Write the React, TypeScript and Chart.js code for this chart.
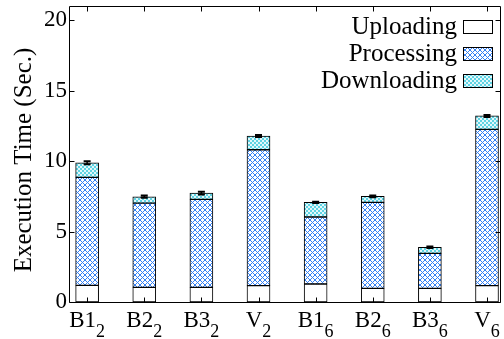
import React, { useEffect, useRef } from 'react';
import { Chart, registerables } from 'chart.js';

Chart.register(...registerables);

// ---- data ----
const categories = ['B1_2', 'B2_2', 'B3_2', 'V_2', 'B1_6', 'B2_6', 'B3_6', 'V_6'];
const seriesNames = ['Uploading', 'Processing', 'Downloading'];
const uploading = [1.18, 1.04, 1.04, 1.16, 1.28, 0.97, 0.97, 1.16];
const processing = [7.66, 5.98, 6.24, 9.64, 4.75, 6.1, 2.48, 11.09];
const downloading = [1.04, 0.45, 0.45, 0.97, 1.04, 0.43, 0.43, 0.95];
const totalErrors = [0.1, 0.08, 0.1, 0.07, 0.05, 0.06, 0.05, 0.07];
const yTicks = [0, 5, 10, 15, 20];
const yTitle = 'Execution Time (Sec.)';

const FONT = "'Liberation Serif', 'DejaVu Serif', serif";

function makeCrossPattern(ctx: CanvasRenderingContext2D): CanvasPattern | string {
  const c = document.createElement('canvas');
  const P = 5;
  c.width = P;
  c.height = P;
  const g = c.getContext('2d');
  if (!g) return '#7aa7f5';
  g.fillStyle = '#ffffff';
  g.fillRect(0, 0, P, P);
  g.strokeStyle = '#3380f5';
  g.lineWidth = 1.0;
  g.beginPath();
  g.moveTo(-1, -1);
  g.lineTo(P + 1, P + 1);
  g.moveTo(P + 1, -1);
  g.lineTo(-1, P + 1);
  g.stroke();
  return ctx.createPattern(c, 'repeat') || '#7aa7f5';
}

function makeCheckerPattern(ctx: CanvasRenderingContext2D): CanvasPattern | string {
  const c = document.createElement('canvas');
  c.width = 4;
  c.height = 4;
  const g = c.getContext('2d');
  if (!g) return '#7fdce8';
  g.fillStyle = '#e2f8fb';
  g.fillRect(0, 0, 4, 4);
  g.fillStyle = '#5fd3e3';
  g.fillRect(0, 0, 2, 2);
  g.fillRect(2, 2, 2, 2);
  return ctx.createPattern(c, 'repeat') || '#7fdce8';
}

export default function App() {
  const canvasRef = useRef<HTMLCanvasElement | null>(null);

  useEffect(() => {
    const canvas = canvasRef.current;
    if (!canvas) return;
    const ctx = canvas.getContext('2d');
    if (!ctx) return;

    const fills: (string | CanvasPattern)[] = ['#ffffff', makeCrossPattern(ctx), makeCheckerPattern(ctx)];
    const seriesValues = [uploading, processing, downloading];

    const framePlugin = {
      id: 'frameAndExtras',
      afterDatasetsDraw(chart: any) {
        const c = chart.ctx as CanvasRenderingContext2D;
        const { left, right, top, bottom } = chart.chartArea;
        const xs = chart.scales.x;
        const ys = chart.scales.y;
        c.save();
        // error bars
        c.strokeStyle = '#000';
        categories.forEach((_, i) => {
          const total = uploading[i] + processing[i] + downloading[i];
          const x = xs.getPixelForValue(i + 1);
          const y1 = ys.getPixelForValue(total + totalErrors[i]);
          const y2 = ys.getPixelForValue(total - totalErrors[i]);
          c.lineWidth = 1.5;
          c.beginPath();
          c.moveTo(x, y1);
          c.lineTo(x, y2);
          c.stroke();
          c.lineWidth = 2;
          c.beginPath();
          c.moveTo(x - 3.5, y1);
          c.lineTo(x + 3.5, y1);
          c.moveTo(x - 3.5, y2);
          c.lineTo(x + 3.5, y2);
          c.stroke();
        });
        // frame
        c.lineWidth = 1;
        const L = Math.round(left) - 0.5;
        const R = Math.round(right) - 0.5;
        const T = Math.round(top) + 0.5;
        const B = Math.round(bottom) + 0.5;
        c.beginPath();
        c.rect(L, T, R - L, B - T);
        c.stroke();
        // inward ticks
        c.beginPath();
        yTicks.forEach((v) => {
          const y = Math.round(ys.getPixelForValue(v)) + 0.5;
          c.moveTo(L, y);
          c.lineTo(L + 5, y);
          c.moveTo(R, y);
          c.lineTo(R - 5, y);
        });
        categories.forEach((_, i) => {
          const x = Math.round(xs.getPixelForValue(i + 1)) + 0.5;
          c.moveTo(x, T);
          c.lineTo(x, T + 5);
          c.moveTo(x, B);
          c.lineTo(x, B - 5);
        });
        c.stroke();
        c.restore();
      },
      afterDraw(chart: any) {
        const c = chart.ctx as CanvasRenderingContext2D;
        const xs = chart.scales.x;
        const { bottom } = chart.chartArea;
        c.save();
        c.fillStyle = '#000';
        c.textBaseline = 'alphabetic';
        c.textAlign = 'left';
        // x labels with subscripts
        categories.forEach((cat, i) => {
          const [base, sub] = cat.split('_');
          const x = xs.getPixelForValue(i + 1);
          c.font = `23px ${FONT}`;
          const wb = c.measureText(base).width;
          c.font = `18px ${FONT}`;
          const ws = c.measureText(sub).width;
          const start = x - (wb + ws) / 2;
          c.font = `23px ${FONT}`;
          c.fillText(base, start, bottom + 25);
          c.font = `18px ${FONT}`;
          c.fillText(sub, start + wb, bottom + 35);
        });
        // y axis title
        c.save();
        c.translate(31, 160);
        c.rotate(-Math.PI / 2);
        c.textAlign = 'center';
        c.font = `25px ${FONT}`;
        c.fillText(yTitle, 0, 0);
        c.restore();
        // legend
        c.font = `25px ${FONT}`;
        c.textAlign = 'right';
        seriesNames.forEach((name, i) => {
          const boxTop = 19.5 + i * 27.3;
          const bx = 463.5;
          c.fillStyle = '#000';
          c.fillText(name, 457, boxTop + 14);
          c.fillStyle = fills[i] as any;
          c.fillRect(bx, Math.round(boxTop) + 0.5, 29, 13);
          c.strokeStyle = '#000';
          c.lineWidth = 1;
          c.strokeRect(bx, Math.round(boxTop) + 0.5, 29, 13);
        });
        c.restore();
      },
    };

    const chart = new Chart(ctx, {
      type: 'bar',
      data: {
        datasets: seriesNames.map((name, s) => ({
          label: name,
          data: seriesValues[s].map((v, i) => ({ x: i + 1, y: v })),
          backgroundColor: fills[s] as any,
          borderColor: '#000000',
          borderWidth: 1,
          borderSkipped: false,
          barThickness: 23,
        })),
      },
      options: {
        responsive: false,
        animation: false,
        layout: { padding: { top: 6, right: 3, left: 0, bottom: 0 } },
        plugins: {
          legend: { display: false },
          tooltip: { enabled: false },
        },
        scales: {
          x: {
            type: 'linear',
            min: 0.7,
            max: 8.245,
            offset: false,
            stacked: true,
            grid: { display: false, offset: false, drawTicks: false },
            border: { display: false },
            ticks: { display: false },
            afterFit: (s: any) => {
              s.height = 37;
              s.paddingLeft = 0;
              s.paddingRight = 0;
            },
          },
          y: {
            type: 'linear',
            min: 0,
            max: 21,
            stacked: true,
            grid: { display: false, drawTicks: false },
            border: { display: false },
            ticks: {
              color: '#000',
              padding: 3,
              font: { family: FONT, size: 23 },
            },
            afterBuildTicks: (s: any) => {
              s.ticks = yTicks.map((v) => ({ value: v }));
            },
            afterFit: (s: any) => {
              s.width = 70;
              s.paddingTop = 0;
              s.paddingBottom = 0;
            },
            title: { display: false, text: yTitle },
          },
        },
      } as any,
      plugins: [framePlugin],
    });

    return () => chart.destroy();
  }, []);

  return (
    <div style={{ position: 'absolute', left: 0, top: 0, width: 504, height: 339 }}>
      <canvas ref={canvasRef} width={504} height={339} />
    </div>
  );
}
